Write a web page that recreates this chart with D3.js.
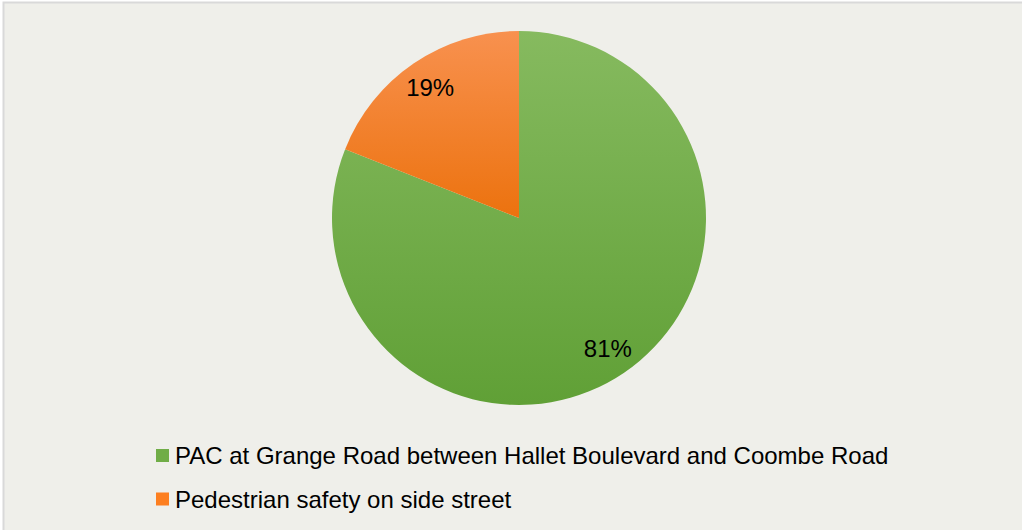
<!DOCTYPE html>
<html>
<head>
<meta charset="utf-8">
<script src="https://cdn.jsdelivr.net/npm/d3@7"></script>
<style>
  body { margin: 0; background: #fff; }
  text { font-family: "Liberation Sans", Arial, sans-serif; }
</style>
</head>
<body>
<script>
var categories = ["PAC at Grange Road between Hallet Boulevard and Coombe Road", "Pedestrian safety on side street"];
var values = [81, 19];
var labels = ["81%", "19%"];

var width = 1022,
  height = 530;

var svg = d3.select("body")
  .append("svg")
  .attr("width", width)
  .attr("height", height);

// background with border
svg.append("rect")
  .attr("x", 3.5).attr("y", 2.5)
  .attr("width", width + 10).attr("height", height + 10)
  .attr("fill", "#efefea")
  .attr("stroke", "#d9d9d9")
  .attr("stroke-width", 2);

// gradients for slices
var defs = svg.append("defs");
var grads = [
  ["grGreen", "#86ba5f", "#60a036"],
  ["grOrange", "#f8914f", "#ec720e"]
];
grads.forEach(function(g) {
  var lg = defs.append("linearGradient")
    .attr("id", g[0])
    .attr("x1", 0).attr("y1", 0).attr("x2", 0).attr("y2", 1);
  lg.append("stop").attr("offset", "0%").attr("stop-color", g[1]);
  lg.append("stop").attr("offset", "100%").attr("stop-color", g[2]);
});
var fills = ["url(#grGreen)", "url(#grOrange)"];
var swatch = ["#70ad47", "#fd7f20"];

var cx = 519, cy = 218, r = 187;

var pie = d3.pie().sort(null).value(function(d) { return d; });
var arc = d3.arc().innerRadius(0).outerRadius(r);
var labelArc = d3.arc().innerRadius(158).outerRadius(158);

var g = svg.append("g").attr("transform", "translate(" + cx + "," + cy + ")");
var arcs = pie(values);

g.selectAll(".slice")
  .data(arcs)
  .enter()
  .append("path")
  .attr("class", "slice")
  .attr("d", arc)
  .attr("fill", function(d, i) { return fills[i]; });

g.selectAll(".lbl")
  .data(arcs)
  .enter()
  .append("text")
  .attr("class", "lbl")
  .attr("transform", function(d) { return "translate(" + labelArc.centroid(d) + ")"; })
  .attr("text-anchor", "middle")
  .attr("dy", "0.36em")
  .attr("font-size", 24)
  .attr("fill", "#000")
  .text(function(d, i) { return labels[i]; });

// legend
var legend = svg.selectAll(".legend")
  .data(categories)
  .enter()
  .append("g")
  .attr("class", "legend")
  .attr("transform", function(d, i) { return "translate(156," + (449 + i * 43.5) + ")"; });

legend.append("rect")
  .attr("width", 13).attr("height", 13)
  .attr("fill", function(d, i) { return swatch[i]; });

legend.append("text")
  .attr("x", 19)
  .attr("y", 15)
  .attr("font-size", 24)
  .attr("fill", "#000")
  .text(function(d) { return d; });
</script>
</body>
</html>
